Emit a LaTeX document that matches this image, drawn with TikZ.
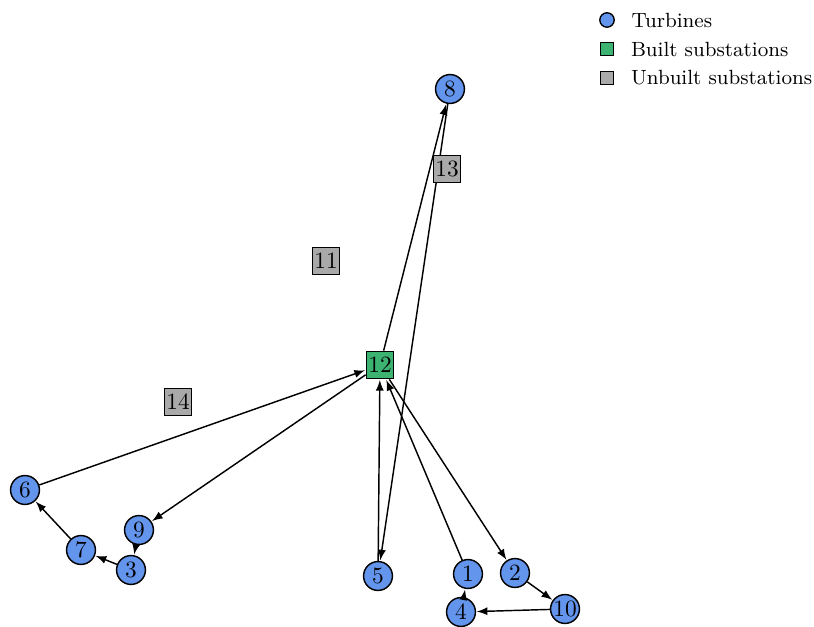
\documentclass[tikz,border=0pt]{standalone}
\usepackage{tikz}
\usetikzlibrary{positioning}
\usetikzlibrary{shapes.geometric, arrows}

\definecolor{turbinecol}{RGB}{100,149,237}
\definecolor{builtcol}{RGB}{60,179,113}
\definecolor{unbuiltcol}{RGB}{169,169,169}

\tikzset{
  every node/.append style={font=\fontsize{10.5}{12}\selectfont},
  turbine/.style={circle, draw, line width=0.65pt, fill=turbinecol, minimum size=13pt, inner sep=0pt},
  built/.style={rectangle, draw, line width=0.65pt, fill=builtcol, minimum size=12.3pt, inner sep=0pt},
  unbuilt/.style={rectangle, draw, line width=0.65pt, fill=unbuiltcol, minimum size=12.3pt, inner sep=0pt},
  cable/.style={->, >=latex, line width=0.65pt, shorten >=0.3pt},
  legendtext/.style={font=\fontsize{9.25}{11}\selectfont, inner sep=0pt},
}

\begin{document}
\begin{tikzpicture}[x=0.45pt, y=-0.45pt]
\useasboundingbox (0,0) rectangle (814,627);

% built substation
\node[built] (S12) at (380,365) {12};

% turbines
\node[turbine] (T1) at (468,574) {1};
\node[turbine] (T2) at (515,573) {2};
\node[turbine] (T3) at (131,570) {3};
\node[turbine] (T4) at (461,612) {4};
\node[turbine] (T5) at (378,576) {5};
\node[turbine] (T6) at (25,490) {6};
\node[turbine] (T7) at (81,550) {7};
\node[turbine] (T8) at (450,89) {8};
\node[turbine] (T9) at (139,530) {9};
\node[turbine] (T10) at (565,609) {10};

% cables
\draw[cable] (S12) -- (T8);
\draw[cable] (T8) -- (T5);
\draw[cable] (T5) -- (S12);
\draw[cable] (T1) -- (S12);
\draw[cable] (S12) -- (T2);
\draw[cable] (T2) -- (T10);
\draw[cable] (T10) -- (T4);
\draw[cable] (T4) -- (T1);
\draw[cable] (S12) -- (T9);
\draw[cable] (T9) -- (T3);
\draw[cable] (T3) -- (T7);
\draw[cable] (T7) -- (T6);
\draw[cable] (T6) -- (S12);

% unbuilt substations (on top of the cables)
\node[unbuilt] (S11) at (326,261) {11};
\node[unbuilt] (S13) at (447,169) {13};
\node[unbuilt] (S14) at (178,402) {14};

% legend
\node[circle, draw, line width=0.6pt, fill=turbinecol, minimum size=6.5pt, inner sep=0pt] (LT) at (607,20) {};
\node[rectangle, draw, line width=0.6pt, fill=builtcol, minimum size=6pt, inner sep=0pt] (LB) at (607,49) {};
\node[rectangle, draw, line width=0.6pt, fill=unbuiltcol, minimum size=6pt, inner sep=0pt] (LU) at (607,78) {};
\node[legendtext, right=7.3pt of LT] {Turbines};
\node[legendtext, right=7.3pt of LB] {Built substations};
\node[legendtext, right=7.3pt of LU] {Unbuilt substations};

\end{tikzpicture}
\end{document}
